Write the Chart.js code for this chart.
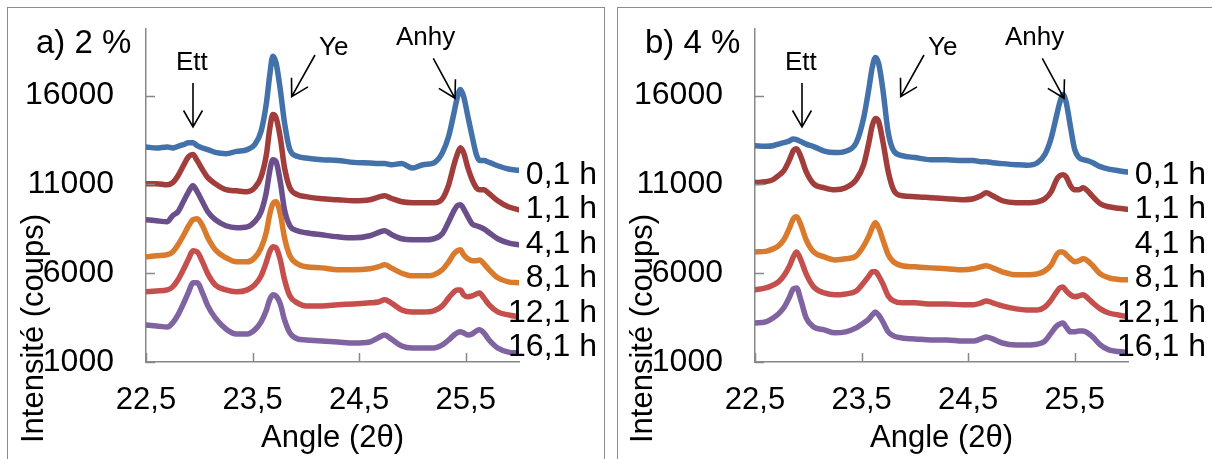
<!DOCTYPE html>
<html>
<head>
<meta charset="utf-8">
<script src="https://cdn.jsdelivr.net/npm/chart.js@4.4.1/dist/chart.umd.min.js"></script>
<style>
  body { margin: 0; background: #fff; width: 1212px; height: 459px; overflow: hidden; position: relative; }
  .panel { position: absolute; top: 7px; height: 480px; border: 1.5px solid #8c8c8c; box-sizing: border-box; }
  canvas { position: absolute; top: 0; }
</style>
</head>
<body>
<div class="panel" style="left:7px; width:598px"></div>
<div class="panel" style="left:617px; width:620px"></div>
<canvas id="chartA" width="606" height="459" style="left:0"></canvas>
<canvas id="chartB" width="606" height="459" style="left:606px"></canvas>
<script>
// Axis ticks
const X_TICKS = [22.5, 23.5, 24.5, 25.5];
const Y_TICKS = [1000, 6000, 11000, 16000];
const SERIES_LABELS = ['0,1 h', '1,1 h', '4,1 h', '8,1 h', '12,1 h', '16,1 h'];

// a) 2 % - angles (2θ) and intensities (coups)
const ANGLES_A = [22.50, 22.60, 22.70, 22.75, 22.80, 22.85, 22.90, 22.94, 22.98, 23.03,
  23.08, 23.15, 23.25, 23.35, 23.45, 23.52, 23.58, 23.63, 23.66, 23.69,
  23.72, 23.76, 23.80, 23.85, 23.92, 24.00, 24.15, 24.30, 24.45, 24.60,
  24.68, 24.74, 24.80, 24.90, 25.00, 25.10, 25.20, 25.28, 25.34, 25.39,
  25.42, 25.45, 25.48, 25.52, 25.56, 25.60, 25.63, 25.67, 25.72, 25.80,
  25.90, 26.00];
const A_01H = [13110,13050,13110,13050,13140,13240,13340,13340,13180,13050,
  12960,12800,12730,12860,12960,13240,13990,15590,17090,18220,
  17850,16340,14460,12960,12580,12490,12390,12350,12240,12210,
  12170,12170,12110,12170,11920,12110,12210,12770,13710,15030,
  15870,16340,15960,14840,13710,12680,12350,12350,12240,12050,
  11870,11790];
const A_11H = [11040,11040,10980,11100,11490,12050,12560,12680,12340,11830,
  11380,11040,10700,10640,10590,10810,11430,12680,14090,14930,
  14760,13630,11940,10810,10420,10310,10190,10140,10080,10140,
  10280,10360,10220,10020,9970,9970,9970,10190,10980,12110,
  12680,13070,12790,11940,11270,10810,10700,10700,10480,10080,
  9740,9570];
const A_41H = [9010,8950,8900,9240,9460,10020,10590,10930,10590,10020,
  9460,9010,8670,8560,8610,8900,9460,10590,11720,12390,
  12280,11150,9570,8670,8390,8280,8160,8050,7990,8110,
  8290,8390,8190,7940,7880,7880,7940,8220,8900,9520,
  9800,9860,9630,9180,8780,8670,8610,8500,8280,7940,
  7710,7600];
const A_81H = [6920,6980,7040,7200,7600,8110,8670,9010,9070,8670,
  7990,7320,6870,6640,6640,6870,7430,8330,9290,9910,
  10020,9350,7990,6980,6530,6360,6300,6190,6190,6250,
  6360,6470,6300,6000,5850,5850,5910,6190,6640,7090,
  7260,7320,7040,6810,6700,6700,6750,6530,6190,5740,
  5510,5460];
const A_121H = [4950,5000,5060,5230,5630,6190,6810,7260,7200,6640,
  5960,5340,5060,4950,5060,5340,5850,6640,7200,7490,
  7430,6750,5630,4720,4330,4160,4160,4220,4270,4330,
  4380,4500,4330,3930,3820,3820,3880,4160,4610,4950,
  5060,5060,4780,4670,4720,4830,4890,4610,4220,3820,
  3650,3540];
const A_161H = [3090,3030,2970,3200,3650,4270,4950,5460,5460,4890,
  4160,3480,2860,2580,2580,2810,3260,3930,4500,4780,
  4720,4270,3370,2640,2300,2240,2180,2130,2070,2130,
  2360,2520,2300,1900,1790,1790,1790,1960,2240,2520,
  2640,2700,2640,2520,2580,2750,2810,2640,2240,1790,
  1560,1510];

// b) 4 % - no 4,1 h curve is plotted
const ANGLES_B = [22.50, 22.60, 22.67, 22.72, 22.77, 22.82, 22.86, 22.89, 22.93, 22.98,
  23.05, 23.15, 23.25, 23.35, 23.45, 23.52, 23.57, 23.60, 23.63, 23.66,
  23.70, 23.75, 23.80, 23.88, 24.00, 24.15, 24.30, 24.45, 24.55, 24.62,
  24.67, 24.73, 24.82, 24.95, 25.05, 25.15, 25.22, 25.28, 25.33, 25.36,
  25.39, 25.42, 25.46, 25.50, 25.54, 25.58, 25.62, 25.67, 25.74, 25.82,
  25.91, 26.00];
const B_01H = [13180,13150,13180,13270,13350,13440,13550,13520,13410,13270,
  13130,12870,12790,12870,13350,14760,16450,17580,18150,17810,
  16340,13920,12900,12620,12510,12390,12390,12340,12340,12280,
  12280,12220,12170,12110,12080,12220,12680,13630,14880,15610,
  16060,15610,14250,12960,12510,12390,12340,12220,12000,11860,
  11770,11690];
const B_11H = [11100,11150,11270,11490,11770,12340,12900,13010,12560,11720,
  11040,10810,10700,10810,11270,12110,13410,14310,14710,14540,
  13410,11720,10700,10360,10310,10250,10190,10140,10190,10360,
  10530,10360,10080,9970,9970,10020,10190,10590,11270,11490,
  11550,11430,10930,10700,10700,10810,10640,10310,9910,9740,
  9660,9600];
const B_81H = [7200,7230,7370,7540,7880,8500,9070,9180,8730,7880,
  7200,6920,6750,6810,6980,7540,8110,8560,8840,8560,
  7880,7040,6640,6420,6360,6300,6250,6190,6250,6360,
  6420,6300,6080,5910,5910,5960,6130,6470,7040,7200,
  7200,7040,6810,6640,6700,6810,6700,6420,5960,5740,
  5650,5630];
const B_121H = [5060,5170,5340,5510,5850,6360,6920,7200,6750,5960,
  5230,4890,4780,4830,5000,5460,5850,6080,6080,5850,
  5400,4720,4440,4330,4330,4270,4270,4220,4220,4330,
  4440,4330,4160,3990,3930,3930,4100,4500,4950,5170,
  5230,5000,4780,4670,4720,4780,4610,4330,3990,3760,
  3650,3540];
const B_161H = [3200,3260,3480,3710,4050,4610,5120,5170,4500,3480,
  2970,2810,2640,2700,2920,3200,3430,3650,3820,3650,
  3260,2700,2470,2350,2300,2240,2240,2180,2180,2300,
  2410,2300,2070,1960,1960,2010,2180,2640,3030,3140,
  3200,2970,2700,2700,2750,2750,2640,2410,1960,1680,
  1590,1530];

const COLORS = {
  h01: '#4371a9', h11: '#a13d3a', h41: '#6a4f8b',
  h81: '#d97a2c', h121: '#c44f4c', h161: '#8064a2'
};
const FONT = '"Liberation Sans", Arial, sans-serif';
const AXIS_COLOR = '#888888';

function toPoints(xs, ys) {
  return xs.map((x, i) => ({ x: x, y: ys[i] }));
}

function line(xs, ys, color) {
  return {
    data: toPoints(xs, ys),
    borderColor: color,
    borderWidth: 5.5,
    pointRadius: 0,
    cubicInterpolationMode: 'monotone',
    borderCapStyle: 'round',
    borderJoinStyle: 'round',
    fill: false
  };
}

function arrow(ctx, x1, y1, x2, y2) {
  const ang = Math.atan2(y2 - y1, x2 - x1);
  const len = 19, spread = 0.52;
  ctx.beginPath();
  ctx.moveTo(x1, y1);
  ctx.lineTo(x2, y2);
  ctx.moveTo(x2 - len * Math.cos(ang - spread), y2 - len * Math.sin(ang - spread));
  ctx.lineTo(x2, y2);
  ctx.lineTo(x2 - len * Math.cos(ang + spread), y2 - len * Math.sin(ang + spread));
  ctx.stroke();
}

// inner tick marks, annotations, series names and axis titles
const decor = {
  id: 'decor',
  afterDraw(chart, args, opts) {
    const { ctx, chartArea: a, scales: { x, y } } = chart;
    const L = a.left, T = a.top;
    ctx.save();

    ctx.strokeStyle = AXIS_COLOR;
    ctx.lineWidth = 1.5;
    ctx.beginPath();
    Y_TICKS.forEach(v => {
      const py = Math.round(y.getPixelForValue(v)) + 0.5;
      ctx.moveTo(L, py); ctx.lineTo(L + 9, py);
    });
    X_TICKS.forEach(v => {
      const px = Math.round(x.getPixelForValue(v)) + 0.5;
      ctx.moveTo(px, a.bottom); ctx.lineTo(px, a.bottom - 9);
    });
    ctx.stroke();

    ctx.fillStyle = '#000';
    ctx.textBaseline = 'alphabetic';
    ctx.textAlign = 'left';
    ctx.font = '33px ' + FONT;
    ctx.fillText(opts.tag, L - 110, 53);

    ctx.font = '26px ' + FONT;
    ctx.fillText('Ett', L + 30, 70);
    ctx.fillText('Ye', L + 173, 55);
    ctx.fillText('Anhy', L + 250, 45);

    ctx.strokeStyle = '#000';
    ctx.lineWidth = 1.6;
    arrow(ctx, L + 47, 83, L + 47, 127);
    arrow(ctx, L + 169, 55, L + 145.7, 96.7);
    arrow(ctx, L + 287.3, 58.3, L + 309, 98.3);

    ctx.font = '32px ' + FONT;
    ctx.textAlign = 'right';
    ctx.textBaseline = 'middle';
    SERIES_LABELS.forEach((s, i) => ctx.fillText(s, L + 451, T + 146 + i * 34.5));

    ctx.font = '31px ' + FONT;
    ctx.textAlign = 'center';
    ctx.textBaseline = 'alphabetic';
    ctx.fillText('Angle (2θ)', (a.left + a.right) / 2, 447);

    ctx.translate(L - 103, 443);
    ctx.rotate(-Math.PI / 2);
    ctx.textAlign = 'left';
    ctx.fillText('Intensité (coups)', 0, 0);
    ctx.restore();
  }
};

function makeChart(id, datasets, tag, leftWidth, rightPad) {
  return new Chart(document.getElementById(id), {
    type: 'line',
    data: { datasets: datasets },
    plugins: [decor],
    options: {
      responsive: false,
      animation: false,
      devicePixelRatio: 1,
      layout: { padding: { left: 0, right: rightPad, top: 29, bottom: 0 } },
      plugins: {
        legend: { display: false },
        tooltip: { enabled: false },
        decor: { tag: tag }
      },
      scales: {
        x: {
          type: 'linear',
          min: 22.5,
          max: 26,
          afterBuildTicks: s => { s.ticks = X_TICKS.map(v => ({ value: v })); },
          afterFit: s => { s.height = 97; s.paddingLeft = 0; s.paddingRight = 0; },
          grid: { display: false, drawTicks: false },
          border: { display: true, color: AXIS_COLOR, width: 1.5 },
          ticks: {
            autoSkip: false,
            maxRotation: 0,
            padding: 20,
            color: '#000',
            font: { family: FONT, size: 31 },
            callback: v => v.toFixed(1).replace('.', ',')
          }
        },
        y: {
          min: 1000,
          max: 19750,
          afterBuildTicks: s => { s.ticks = Y_TICKS.map(v => ({ value: v })); },
          afterFit: s => { s.width = leftWidth; s.paddingTop = 0; s.paddingBottom = 0; },
          grid: { display: false, drawTicks: false },
          border: { display: true, color: AXIS_COLOR, width: 1.5 },
          ticks: {
            padding: 32,
            color: '#000',
            font: { family: FONT, size: 32 },
            callback: v => String(v)
          }
        }
      }
    }
  });
}

makeChart('chartA', [
  line(ANGLES_A, A_01H, COLORS.h01),
  line(ANGLES_A, A_11H, COLORS.h11),
  line(ANGLES_A, A_41H, COLORS.h41),
  line(ANGLES_A, A_81H, COLORS.h81),
  line(ANGLES_A, A_121H, COLORS.h121),
  line(ANGLES_A, A_161H, COLORS.h161)
], 'a) 2 %', 146, 87);

makeChart('chartB', [
  line(ANGLES_B, B_01H, COLORS.h01),
  line(ANGLES_B, B_11H, COLORS.h11),
  line(ANGLES_B, B_81H, COLORS.h81),
  line(ANGLES_B, B_121H, COLORS.h121),
  line(ANGLES_B, B_161H, COLORS.h161)
], 'b) 4 %', 149, 84);
</script>
</body>
</html>
